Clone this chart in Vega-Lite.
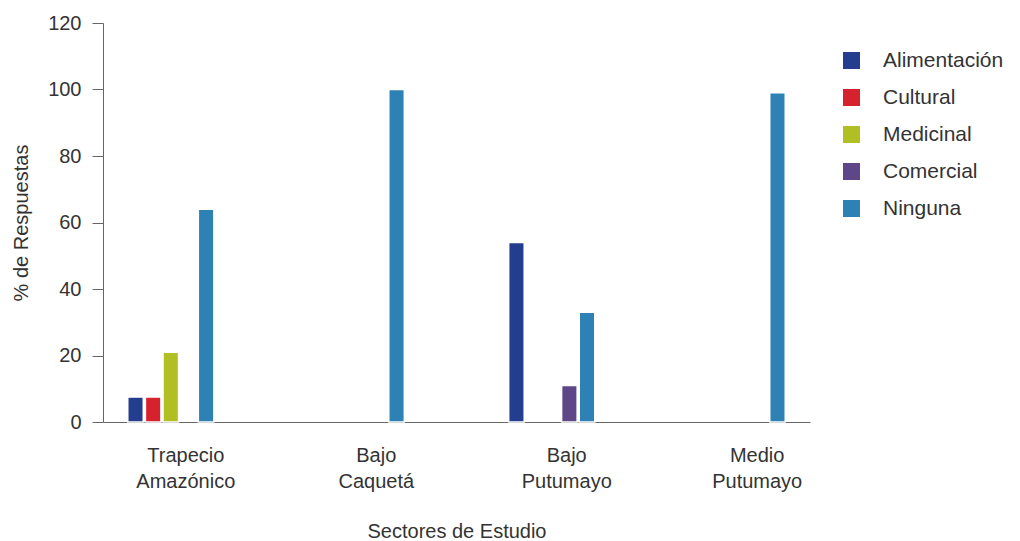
{
  "$schema": "https://vega.github.io/schema/vega-lite/v6.json",
  "width": 707,
  "height": 399,
  "autosize": {"type": "none"},
  "padding": {"left": 103, "top": 23, "right": 210, "bottom": 119},
  "background": "white",
  "config": {
    "view": {"stroke": null},
    "font": "Liberation Sans",
    "axis": {
      "labelFont": "Liberation Sans",
      "titleFont": "Liberation Sans",
      "labelFontSize": 20,
      "titleFontSize": 20,
      "labelColor": "#333333",
      "titleColor": "#333333",
      "titleFontWeight": "normal",
      "domainColor": "#666666",
      "tickColor": "#666666",
      "grid": false
    },
    "legend": {
      "labelFont": "Liberation Sans",
      "labelFontSize": 21,
      "labelColor": "#333333"
    }
  },
  "data": {
    "values": [
      {"sector": "Trapecio Amazónico", "uso": "Alimentación", "valor": 7.5},
      {"sector": "Trapecio Amazónico", "uso": "Cultural", "valor": 7.5},
      {"sector": "Trapecio Amazónico", "uso": "Medicinal", "valor": 21},
      {"sector": "Trapecio Amazónico", "uso": "Ninguna", "valor": 64},
      {"sector": "Bajo Caquetá", "uso": "Ninguna", "valor": 100},
      {"sector": "Bajo Putumayo", "uso": "Alimentación", "valor": 54},
      {"sector": "Bajo Putumayo", "uso": "Comercial", "valor": 11},
      {"sector": "Bajo Putumayo", "uso": "Ninguna", "valor": 33},
      {"sector": "Medio Putumayo", "uso": "Ninguna", "valor": 99}
    ]
  },
  "mark": {"type": "bar", "stroke": "white", "strokeWidth": 1.5},
  "encoding": {
    "x": {
      "field": "sector",
      "type": "nominal",
      "sort": ["Trapecio Amazónico", "Bajo Caquetá", "Bajo Putumayo", "Medio Putumayo"],
      "scale": {"paddingInner": 0.548, "paddingOuter": 0.13},
      "axis": {
        "title": "Sectores de Estudio",
        "labelAngle": 0,
        "labelExpr": "split(datum.label, ' ')",
        "labelLineHeight": 26,
        "labelPadding": 23,
        "labelOffset": 15,
        "ticks": false,
        "titlePadding": 30
      }
    },
    "xOffset": {
      "field": "uso",
      "type": "nominal",
      "scale": {
        "domain": ["Alimentación", "Cultural", "Medicinal", "Comercial", "Ninguna"],
        "paddingInner": 0.12
      }
    },
    "y": {
      "field": "valor",
      "type": "quantitative",
      "scale": {"domain": [0, 120]},
      "axis": {
        "title": "% de Respuestas",
        "values": [0, 20, 40, 60, 80, 100, 120],
        "tickSize": 11,
        "labelPadding": 11,
        "titlePadding": 16
      }
    },
    "color": {
      "field": "uso",
      "type": "nominal",
      "scale": {
        "domain": ["Alimentación", "Cultural", "Medicinal", "Comercial", "Ninguna"],
        "range": ["#233E8E", "#D6222D", "#B1BF22", "#5D4788", "#2E81B4"]
      },
      "legend": {
        "title": null,
        "orient": "none",
        "legendX": 738,
        "legendY": 27,
        "symbolType": "square",
        "symbolSize": 289,
        "symbolStrokeWidth": 0,
        "rowPadding": 15,
        "labelOffset": 21
      }
    }
  }
}
